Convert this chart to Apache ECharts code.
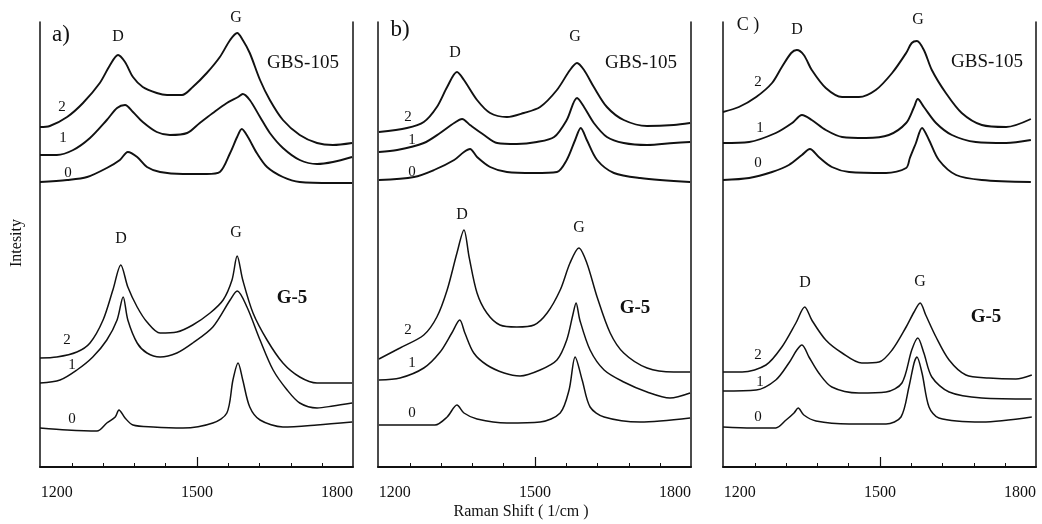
<!DOCTYPE html>
<html>
<head>
<meta charset="utf-8">
<script src="https://cdn.jsdelivr.net/npm/echarts@6/dist/echarts.min.js"></script>
<style>
  html, body { margin: 0; padding: 0; background: #fff; }
  #chart { width: 1042px; height: 524px; }
</style>
</head>
<body>
<div id="chart"></div>
<script>
// x axis
const xMin = 1164;
const xMax = 1834;
const xLabels = [1200, 1500, 1800];
const xMinorTicks = [1232, 1299, 1366, 1433, 1500, 1567, 1634, 1701, 1768];
const xMajorTicks = [1500];

// spectra, [raman shift, intensity (offset a.u.)]
// panel a, GBS-105
const aGbs2 = [[1164,340],[1185,341],[1222,350],[1256,364],[1292,384],[1314,402],[1331,412],[1346,405],[1363,390],[1384,380],[1414,374],[1436,372],[1468,372],[1491,380],[1521,394],[1549,410],[1571,427],[1586,434],[1598,427],[1613,414],[1635,387],[1656,367],[1684,347],[1720,332],[1757,324],[1791,322],[1832,324]];
const aGbs1 = [[1164,312],[1200,312],[1235,317],[1271,329],[1307,347],[1329,359],[1346,362],[1363,355],[1384,345],[1414,335],[1442,332],[1479,334],[1506,344],[1534,354],[1564,364],[1588,370],[1598,373],[1613,367],[1635,350],[1656,334],[1684,319],[1720,307],[1757,303],[1791,305],[1832,310]];
const aGbs0 = [[1164,285],[1222,287],[1265,290],[1307,299],[1335,307],[1352,315],[1372,310],[1393,300],[1421,295],[1470,293],[1521,293],[1549,295],[1571,314],[1586,330],[1596,338],[1609,330],[1628,314],[1650,300],[1684,290],[1720,285],[1791,284],[1832,284]];
// panel a, G-5
const aG52 = [[1164,109],[1200,110],[1243,115],[1271,124],[1299,147],[1320,177],[1337,202],[1352,180],[1372,160],[1393,145],[1421,134],[1457,135],[1491,142],[1528,154],[1556,167],[1575,187],[1586,211],[1598,187],[1620,154],[1650,127],[1684,104],[1720,90],[1757,84],[1791,84],[1832,84]];
const aG51 = [[1164,84],[1207,87],[1243,97],[1277,110],[1307,127],[1329,147],[1342,170],[1352,147],[1372,124],[1393,114],[1421,110],[1457,114],[1491,124],[1534,140],[1571,167],[1586,176],[1607,160],[1635,127],[1663,97],[1693,77],[1720,64],[1757,59],[1791,61],[1832,64]];
const aG50 = [[1164,39],[1222,37],[1286,36],[1307,44],[1325,50],[1333,57],[1346,49],[1363,42],[1406,40],[1470,39],[1534,44],[1564,54],[1577,87],[1588,104],[1598,87],[1613,60],[1635,47],[1684,40],[1757,42],[1832,45]];
// panel b, GBS-105
const bGbs2 = [[1166,335],[1226,339],[1262,345],[1290,360],[1312,380],[1333,395],[1348,387],[1376,367],[1404,354],[1440,350],[1476,354],[1511,360],[1547,377],[1575,397],[1590,404],[1605,397],[1626,380],[1654,360],[1690,347],[1740,341],[1797,342],[1832,344]];
const bGbs1 = [[1166,315],[1205,317],[1262,324],[1297,334],[1327,344],[1344,348],[1361,342],[1391,332],[1419,324],[1461,323],[1504,325],[1541,330],[1568,347],[1590,369],[1605,360],[1626,344],[1654,330],[1690,324],[1740,322],[1797,324],[1832,325]];
const bGbs0 = [[1166,287],[1241,290],[1284,297],[1327,307],[1348,315],[1361,318],[1376,310],[1404,300],[1440,295],[1498,294],[1547,295],[1568,307],[1586,327],[1598,339],[1611,327],[1633,307],[1669,294],[1725,289],[1832,285]];
// panel b, G-5
const bG52 = [[1166,108],[1211,119],[1262,132],[1290,150],[1312,177],[1333,214],[1348,237],[1359,210],[1376,174],[1397,154],[1425,142],[1461,140],[1498,142],[1526,154],[1554,177],[1575,204],[1594,219],[1611,204],[1633,170],[1661,134],[1690,114],[1740,99],[1797,95],[1832,95]];
const bG51 = [[1166,87],[1211,89],[1262,99],[1297,115],[1322,134],[1339,147],[1350,134],[1369,114],[1397,102],[1434,94],[1468,91],[1511,97],[1547,107],[1568,127],[1581,152],[1588,164],[1596,147],[1618,117],[1648,97],[1690,85],[1740,75],[1789,69],[1832,74]];
const bG50 = [[1166,42],[1247,42],[1286,42],[1312,50],[1333,62],[1348,54],[1376,48],[1440,44],[1511,45],[1554,54],[1573,77],[1586,110],[1601,87],[1618,60],[1648,50],[1725,45],[1832,49]];
// panel c, GBS-105
const cGbs2 = [[1164,355],[1198,360],[1235,370],[1269,384],[1290,400],[1310,414],[1322,417],[1337,412],[1354,397],[1384,379],[1419,370],[1455,370],[1491,377],[1526,394],[1556,414],[1568,424],[1579,426],[1594,417],[1611,397],[1641,374],[1675,354],[1718,342],[1770,340],[1823,348]];
const cGbs1 = [[1164,324],[1220,325],[1277,334],[1312,344],[1333,352],[1354,347],[1384,337],[1419,330],[1470,329],[1519,332],[1556,344],[1573,360],[1581,368],[1594,360],[1620,344],[1654,332],[1705,325],[1770,324],[1823,327]];
const cGbs0 = [[1164,287],[1220,289],[1269,295],[1305,302],[1333,312],[1350,318],[1369,310],[1397,300],[1434,295],[1513,294],[1556,299],[1564,309],[1577,324],[1590,339],[1605,327],[1626,307],[1663,292],[1718,287],[1823,285]];
// panel c, G-5
const cG52 = [[1164,95],[1205,95],[1256,102],[1290,120],[1320,144],[1339,160],[1354,147],[1384,127],[1419,114],[1461,104],[1498,105],[1526,117],[1556,140],[1573,155],[1586,164],[1598,152],[1620,130],[1648,107],[1684,92],[1733,89],[1791,88],[1825,92]];
const cG51 = [[1164,76],[1235,77],[1277,87],[1305,104],[1322,117],[1333,122],[1348,110],[1369,94],[1397,80],[1455,74],[1513,75],[1547,84],[1568,117],[1581,129],[1594,114],[1611,90],[1648,75],[1718,69],[1825,68]];
const cG50 = [[1164,40],[1226,39],[1277,39],[1299,47],[1316,54],[1325,59],[1337,52],[1363,46],[1434,43],[1513,43],[1545,50],[1562,80],[1573,104],[1579,110],[1590,94],[1605,60],[1626,49],[1718,45],[1825,50]];

const panels = [
  { left: 40, top: [aGbs2, aGbs1, aGbs0], bottom: [aG52, aG51, aG50] },
  { left: 378, top: [bGbs2, bGbs1, bGbs0], bottom: [bG52, bG51, bG50] },
  { left: 723, top: [cGbs2, cGbs1, cGbs0], bottom: [cG52, cG51, cG50] }
];

const serif = '"Liberation Serif", "DejaVu Serif", serif';
const ink = '#111';

const grid = [], xAxis = [], yAxis = [], series = [];
panels.forEach((p, i) => {
  grid.push({ left: p.left, top: 22, width: 313, height: 445 });
  xAxis.push({
    type: 'value', gridIndex: i, min: xMin, max: xMax, position: 'bottom',
    axisLine: { onZero: false, lineStyle: { color: ink, width: 2 } },
    axisTick: { inside: true, length: 4, customValues: xMinorTicks, lineStyle: { color: ink, width: 1 } },
    axisLabel: {
      customValues: xLabels, color: ink, fontFamily: serif, fontSize: 16, margin: 18,
      formatter: (v) => String(v)
    },
    splitLine: { show: false }
  });
  xAxis.push({
    type: 'value', gridIndex: i, min: xMin, max: xMax, position: 'bottom',
    axisLine: { show: false },
    axisTick: { inside: true, length: 10, customValues: xMajorTicks, lineStyle: { color: ink, width: 1.2 } },
    axisLabel: { show: false },
    splitLine: { show: false }
  });
  ['left', 'right'].forEach((pos) => {
    yAxis.push({
      type: 'value', gridIndex: i, min: 0, max: 445, position: pos,
      axisLine: { show: true, onZero: false, lineStyle: { color: ink, width: 1.5 } },
      axisTick: { show: false }, axisLabel: { show: false }, splitLine: { show: false }
    });
  });
  const add = (data, w) => series.push({
    type: 'line', xAxisIndex: i * 2, yAxisIndex: i * 2, data,
    smooth: 0.3, showSymbol: false, silent: true,
    lineStyle: { color: ink, width: w }
  });
  p.top.forEach((d) => add(d, 1.9));
  p.bottom.forEach((d) => add(d, 1.5));
});

const txt = (text, x, y, size, extra, weight) => Object.assign({
  type: 'text', x, y, silent: true,
  style: {
    text, fill: ink, font: (weight || 'normal') + ' ' + size + 'px ' + serif,
    textAlign: 'center', textVerticalAlign: 'middle'
  }
}, extra || {});

const graphic = [
  // panel a
  txt('a)', 61, 35, 23), txt('D', 118, 37, 16), txt('G', 236, 18, 16), txt('GBS-105', 303, 63, 19),
  txt('2', 62, 107, 15), txt('1', 63, 138, 15), txt('0', 68, 173, 15),
  txt('D', 121, 239, 16), txt('G', 236, 233, 16), txt('G-5', 292, 298, 19, null, 'bold'),
  txt('2', 67, 340, 15), txt('1', 72, 365, 15), txt('0', 72, 419, 15),
  // panel b
  txt('b)', 400, 30, 23), txt('D', 455, 53, 16), txt('G', 575, 37, 16), txt('GBS-105', 641, 63, 19),
  txt('2', 408, 117, 15), txt('1', 412, 140, 15), txt('0', 412, 172, 15),
  txt('D', 462, 215, 16), txt('G', 579, 228, 16), txt('G-5', 635, 308, 19, null, 'bold'),
  txt('2', 408, 330, 15), txt('1', 412, 363, 15), txt('0', 412, 413, 15),
  // panel c
  txt('C )', 748, 25, 18), txt('D', 797, 30, 16), txt('G', 918, 20, 16), txt('GBS-105', 987, 62, 19),
  txt('2', 758, 82, 15), txt('1', 760, 128, 15), txt('0', 758, 163, 15),
  txt('D', 805, 283, 16), txt('G', 920, 282, 16), txt('G-5', 986, 317, 19, null, 'bold'),
  txt('2', 758, 355, 15), txt('1', 760, 382, 15), txt('0', 758, 417, 15),
  // axis names
  txt('Intesity', 17, 243, 16, { rotation: Math.PI / 2 }),
  txt('Raman Shift ( 1/cm )', 521, 512, 16)
];

const chart = echarts.init(document.getElementById('chart'), null, { renderer: 'canvas' });
chart.setOption({
  animation: false,
  backgroundColor: '#fff',
  grid, xAxis, yAxis, series, graphic
});
</script>
</body>
</html>
